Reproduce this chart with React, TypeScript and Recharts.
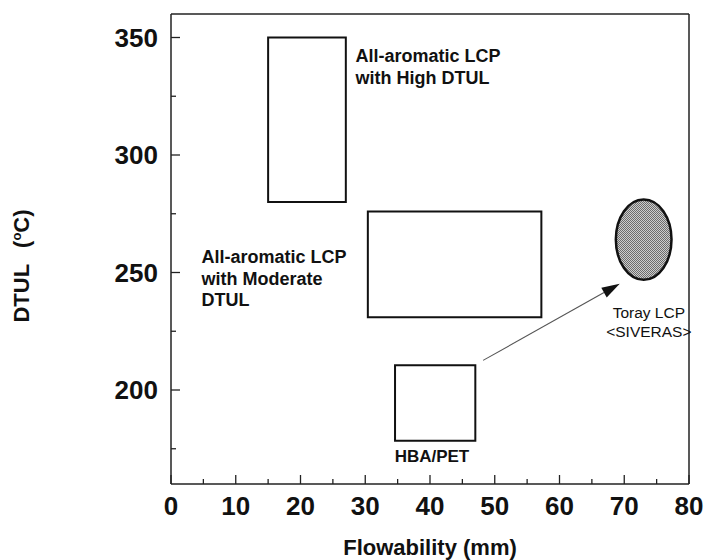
import { ComposedChart, XAxis, YAxis, ReferenceArea, ReferenceLine, ReferenceDot, Label } from "recharts"

// axis ticks (majors get a label, minors only a short tick)
const xTicks = [0, 5, 10, 15, 20, 25, 30, 35, 40, 45, 50, 55, 60, 65, 70, 75, 80]
const yTicks = [175, 200, 225, 250, 275, 300, 325, 350]

// boxes: flowability (mm) range x DTUL (°C) range
const boxX1 = [15, 30.4, 34.6]
const boxX2 = [27, 57.2, 47]
const boxY1 = [280, 231, 178.4]
const boxY2 = [350, 276, 210.5]

// Toray LCP ellipse bounds
const torayX = [68.7, 77.3]
const torayY = [246.9, 281.1]

// arrow HBA/PET -> Toray
const arrowX = [48.2, 69.3]
const arrowY = [212.6, 245.2]

// annotations
const noteText = [
    ["All-aromatic LCP", "with High DTUL"],
    ["All-aromatic LCP", "with Moderate", "DTUL"],
    ["HBA/PET"],
    ["Toray LCP", "<SIVERAS>"],
]
const noteX = [28.5, 4.7, 40.3, 73.8]
const noteY = [342.2, 256.8, 172, 232.9]

const FONT = "'Liberation Sans', Arial, sans-serif"
const noteStyle = [
    { size: 18, weight: "bold", anchor: "start", lead: 21.7 },
    { size: 18, weight: "bold", anchor: "start", lead: 21.7 },
    { size: 17, weight: "bold", anchor: "middle", lead: 20 },
    { size: 15.5, weight: "normal", anchor: "middle", lead: 19 },
]

function XTick(props: any) {
    const { x, y, payload } = props
    const major = payload.value % 10 === 0
    return (
        <g>
            <line x1={x} x2={x} y1={y} y2={y - (major ? 9 : 5)} stroke="#222" strokeWidth={1.3} />
            {major && (
                <text x={x} y={y + 22} dy="0.35em" textAnchor="middle" fontSize={26} fontWeight="bold" fontFamily={FONT} fill="#111">
                    {payload.value}
                </text>
            )}
        </g>
    )
}

function YTick(props: any) {
    const { x, y, payload } = props
    const major = payload.value % 50 === 0
    return (
        <g>
            <line x1={x} x2={x + (major ? 9 : 5)} y1={y} y2={y} stroke="#222" strokeWidth={1.3} />
            {major && (
                <text x={x - 13} y={y} dy="0.35em" textAnchor="end" fontSize={26} fontWeight="bold" fontFamily={FONT} fill="#111">
                    {payload.value}
                </text>
            )}
        </g>
    )
}

const ellipseShape = (p: any) => (
    <g>
        <defs>
            <pattern id="stipple" width={2} height={2} patternUnits="userSpaceOnUse">
                <rect width={2} height={2} fill="#cdcdcd" />
                <rect width={1} height={1} fill="#6c6c6c" />
                <rect x={1} y={1} width={1} height={1} fill="#6c6c6c" />
            </pattern>
        </defs>
        <ellipse
            cx={p.x + p.width / 2}
            cy={p.y + p.height / 2}
            rx={p.width / 2}
            ry={p.height / 2}
            fill="url(#stipple)"
            stroke="#111"
            strokeWidth={2.5}
        />
    </g>
)

const arrowShape = (p: any) => {
    const { x1, y1, x2, y2 } = p
    const ang = Math.atan2(y2 - y1, x2 - x1)
    const len = 18
    const half = 5.5
    const bx = x2 - len * Math.cos(ang)
    const by = y2 - len * Math.sin(ang)
    const nx = -Math.sin(ang) * half
    const ny = Math.cos(ang) * half
    return (
        <g>
            <line x1={x1} y1={y1} x2={bx} y2={by} stroke="#555" strokeWidth={1.1} />
            <polygon points={`${x2},${y2} ${bx + nx},${by + ny} ${bx - nx},${by - ny}`} fill="#111" />
        </g>
    )
}

const noteShape = (i: number) => (p: any) => {
    const s = noteStyle[i]
    return (
        <text x={p.cx} y={p.cy} textAnchor={s.anchor} fontSize={s.size} fontWeight={s.weight} fontFamily={FONT} fill="#111">
            {noteText[i].map((t, k) => (
                <tspan key={k} x={p.cx} dy={k === 0 ? "0.35em" : s.lead}>
                    {t}
                </tspan>
            ))}
        </text>
    )
}

export default function App() {
    return (
        <div style={{ position: "absolute", left: 0, top: 0, background: "#fff" }}>
            <ComposedChart width={705} height={560} data={[]} margin={{ top: 14, right: 16, bottom: 0, left: 0 }}>
                <XAxis
                    type="number"
                    dataKey="x"
                    domain={[0, 80]}
                    ticks={xTicks}
                    allowDataOverflow
                    height={76}
                    tickSize={0}
                    tickMargin={0}
                    tickLine={false}
                    axisLine={{ stroke: "#222", strokeWidth: 1.5 }}
                    tick={XTick}
                    interval={0}
                >
                    <Label
                        content={(props: any) => {
                            const vb = props.viewBox
                            return (
                                <text x={vb.x + vb.width / 2} y={vb.y + 63} dy="0.35em" textAnchor="middle" fontSize={22} fontWeight="bold" fontFamily={FONT} fill="#111">
                                    Flowability (mm)
                                </text>
                            )
                        }}
                    />
                </XAxis>
                <YAxis
                    type="number"
                    dataKey="y"
                    domain={[160, 360]}
                    ticks={yTicks}
                    allowDataOverflow
                    width={171}
                    tickSize={0}
                    tickMargin={0}
                    tickLine={false}
                    axisLine={{ stroke: "#222", strokeWidth: 1.5 }}
                    tick={YTick}
                    interval={0}
                >
                    <Label
                        content={(props: any) => {
                            const vb = props.viewBox
                            const cx = vb.x + 21
                            const cy = vb.y + 252
                            return (
                                <text x={cx} y={cy} dy="0.35em" textAnchor="middle" transform={`rotate(-90 ${cx} ${cy})`} fontSize={22} fontWeight="bold" fontFamily={FONT} fill="#111">
                                    <tspan>DTUL</tspan>
                                    <tspan dx={16}>(</tspan>
                                    <tspan fontSize={13} dy={-8}>o</tspan>
                                    <tspan dy={8}>C)</tspan>
                                </text>
                            )
                        }}
                    />
                </YAxis>
                <ReferenceLine y={360} stroke="#222" strokeWidth={1.5} />
                <ReferenceLine x={80} stroke="#222" strokeWidth={1.5} />
                {boxX1.map((_, i) => (
                    <ReferenceArea
                        key={i}
                        x1={boxX1[i]}
                        x2={boxX2[i]}
                        y1={boxY1[i]}
                        y2={boxY2[i]}
                        fill="#fff"
                        fillOpacity={1}
                        stroke="#111"
                        strokeWidth={2}
                    />
                ))}
                <ReferenceArea x1={torayX[0]} x2={torayX[1]} y1={torayY[0]} y2={torayY[1]} shape={ellipseShape} />
                <ReferenceLine
                    segment={[
                        { x: arrowX[0], y: arrowY[0] },
                        { x: arrowX[1], y: arrowY[1] },
                    ]}
                    shape={arrowShape}
                />
                {noteText.map((_, i) => (
                    <ReferenceDot key={i} x={noteX[i]} y={noteY[i]} r={0} shape={noteShape(i)} />
                ))}
            </ComposedChart>
        </div>
    )
}
